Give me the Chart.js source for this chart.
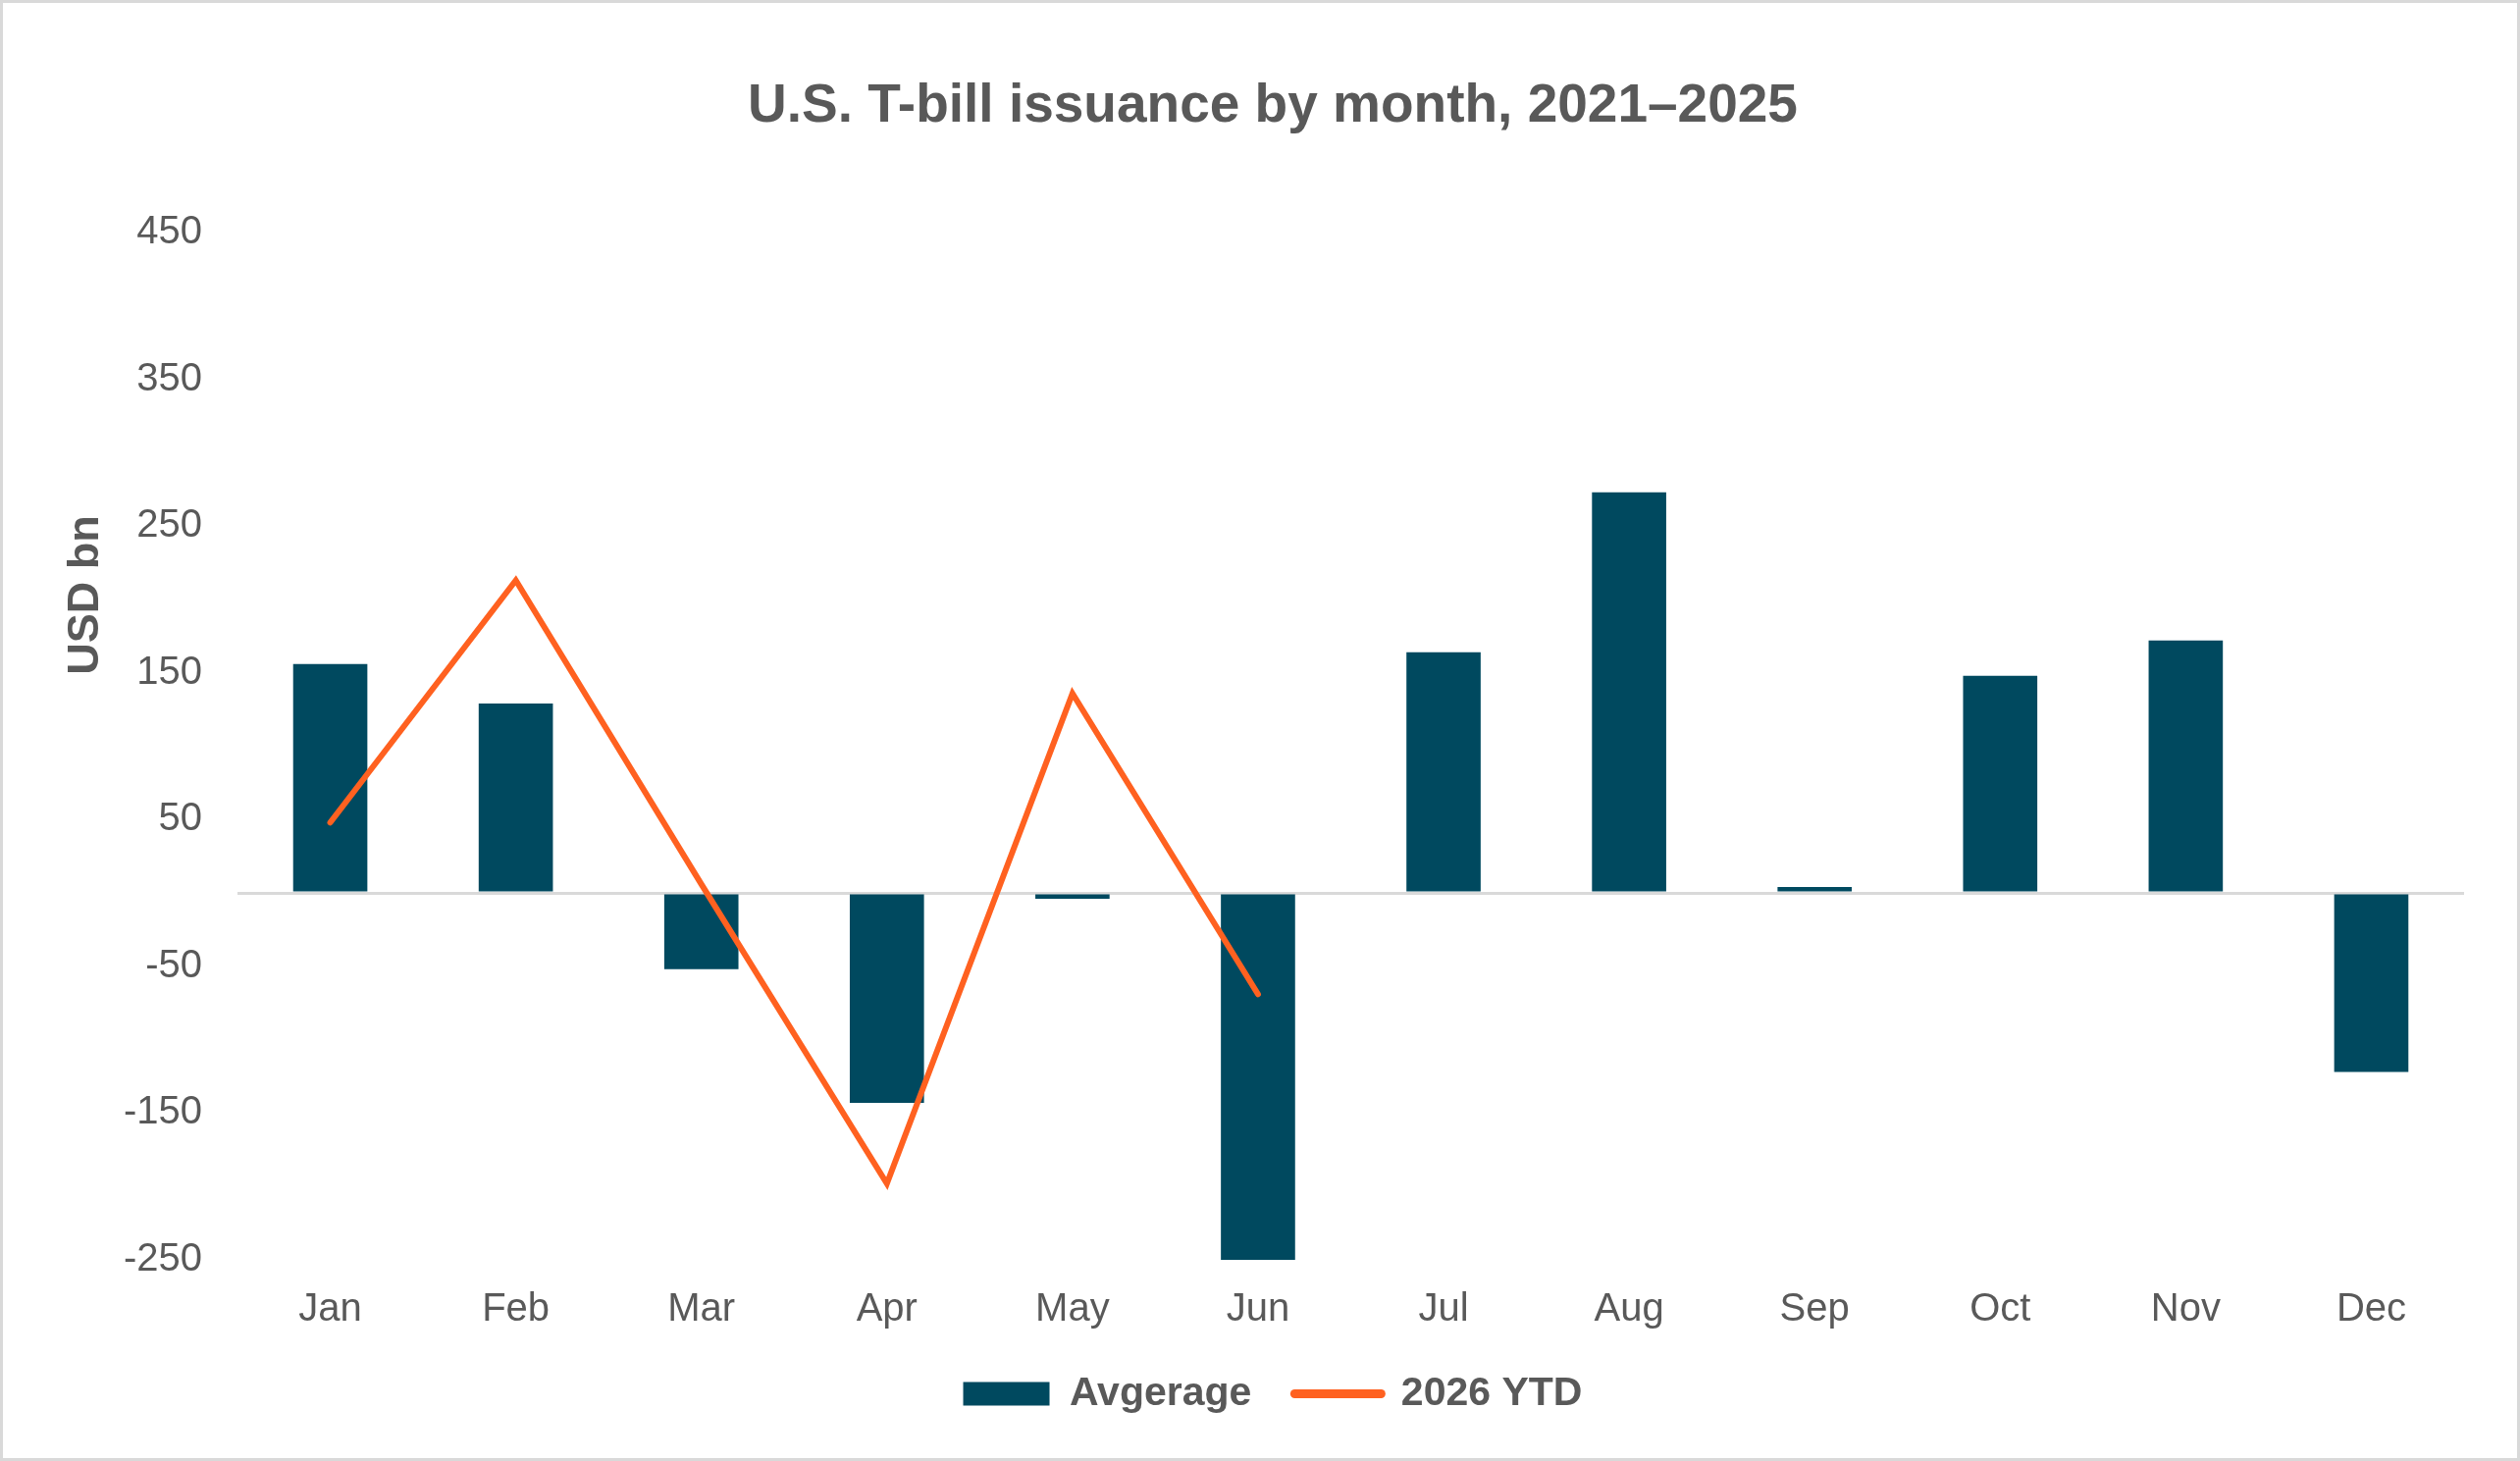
<!DOCTYPE html>
<html>
<head>
<meta charset="utf-8">
<script src="https://cdn.jsdelivr.net/npm/chart.js@4.4.1/dist/chart.umd.min.js"></script>
<style>
  html, body { margin: 0; padding: 0; background: #fff; }
  #wrap { width: 2568px; height: 1489px; box-sizing: border-box; border: 3px solid #d9d9d9; }
  canvas { display: block; }
</style>
</head>
<body>
<div id="wrap"><canvas id="chart" width="2562" height="1483"></canvas></div>
<script>
// data (USD bn)
const months = ['Jan', 'Feb', 'Mar', 'Apr', 'May', 'Jun', 'Jul', 'Aug', 'Sep', 'Oct', 'Nov', 'Dec'];
const averageValues = [156, 129, -52, -143, -4, -252, 164, 273, 4, 148, 172, -122];
const ytdValues = [48, 213, 6, -198, 136, -69];
const yTickLabels = [450, 350, 250, 150, 50, -50, -150, -250];

const textColor = '#595959';
const fontFamily = '"Liberation Sans", Arial, sans-serif';

Chart.defaults.font.family = fontFamily;
Chart.defaults.color = textColor;

// y axis title sits above the middle of the axis in the original, so draw it ourselves
const yAxisTitle = {
    id: 'yAxisTitle',
    afterDraw(chart) {
        const c = chart.ctx;
        const y = chart.scales.y.getPixelForValue(203);
        c.save();
        c.translate(chart.chartArea.left - 154, y);
        c.rotate(-Math.PI / 2);
        c.font = 'bold 45px ' + fontFamily;
        c.fillStyle = textColor;
        c.textAlign = 'center';
        c.textBaseline = 'middle';
        c.fillText('USD bn', 0, 0);
        c.restore();
    }
};

const ctx = document.getElementById('chart').getContext('2d');
new Chart(ctx, {
    type: 'bar',
    data: {
        labels: months,
        datasets: [
            {
                type: 'line',
                label: '2026 YTD',
                data: ytdValues,
                borderColor: '#FF6120',
                backgroundColor: '#FF6120',
                borderWidth: 6,
                borderCapStyle: 'round',
                pointRadius: 0,
                tension: 0
            },
            {
                type: 'bar',
                label: 'Avgerage',
                data: averageValues,
                backgroundColor: '#00495F',
                categoryPercentage: 1,
                barPercentage: 0.4
            }
        ]
    },
    plugins: [yAxisTitle],
    options: {
        responsive: false,
        animation: false,
        devicePixelRatio: 1,
        layout: {
            padding: { top: 0, left: 80, right: 54, bottom: 35 }
        },
        scales: {
            x: {
                grid: { display: false, drawTicks: false },
                border: { display: false },
                ticks: {
                    padding: 27,
                    font: { size: 40 },
                    color: textColor
                },
                afterFit(scale) { scale.height = 72; }
            },
            y: {
                min: -250,
                max: 450,
                grid: {
                    drawTicks: false,
                    lineWidth: 3,
                    color: c => (c.tick && c.tick.value === 0 ? '#d9d9d9' : 'rgba(0,0,0,0)')
                },
                border: { display: false },
                ticks: {
                    stepSize: 50,
                    autoSkip: false,
                    padding: 36,
                    font: { size: 40 },
                    color: textColor,
                    callback: v => (yTickLabels.includes(v) ? String(v) : '')
                },
                afterFit(scale) { scale.width = 159; }
            }
        },
        plugins: {
            title: {
                display: true,
                text: 'U.S. T-bill issuance by month, 2021–2025',
                font: { size: 55, weight: 'bold' },
                color: textColor,
                padding: { top: 73, bottom: 95 }
            },
            legend: {
                position: 'bottom',
                labels: {
                    usePointStyle: true,
                    pointStyleWidth: 88,
                    boxHeight: 24,
                    padding: 44,
                    font: { size: 41, weight: 'bold' },
                    color: textColor,
                    sort: (a, b) => b.datasetIndex - a.datasetIndex,
                    generateLabels: function(chart) {
                        const items = Chart.defaults.plugins.legend.labels.generateLabels(chart);
                        items.forEach(item => {
                            if (item.datasetIndex === 0) {
                                item.pointStyle = 'line';
                                item.lineWidth = 9;
                                item.lineCap = 'round';
                            } else {
                                item.pointStyle = 'rect';
                                item.lineWidth = 0;
                            }
                        });
                        return items;
                    }
                }
            },
            tooltip: { enabled: false }
        }
    }
});
</script>
</body>
</html>
